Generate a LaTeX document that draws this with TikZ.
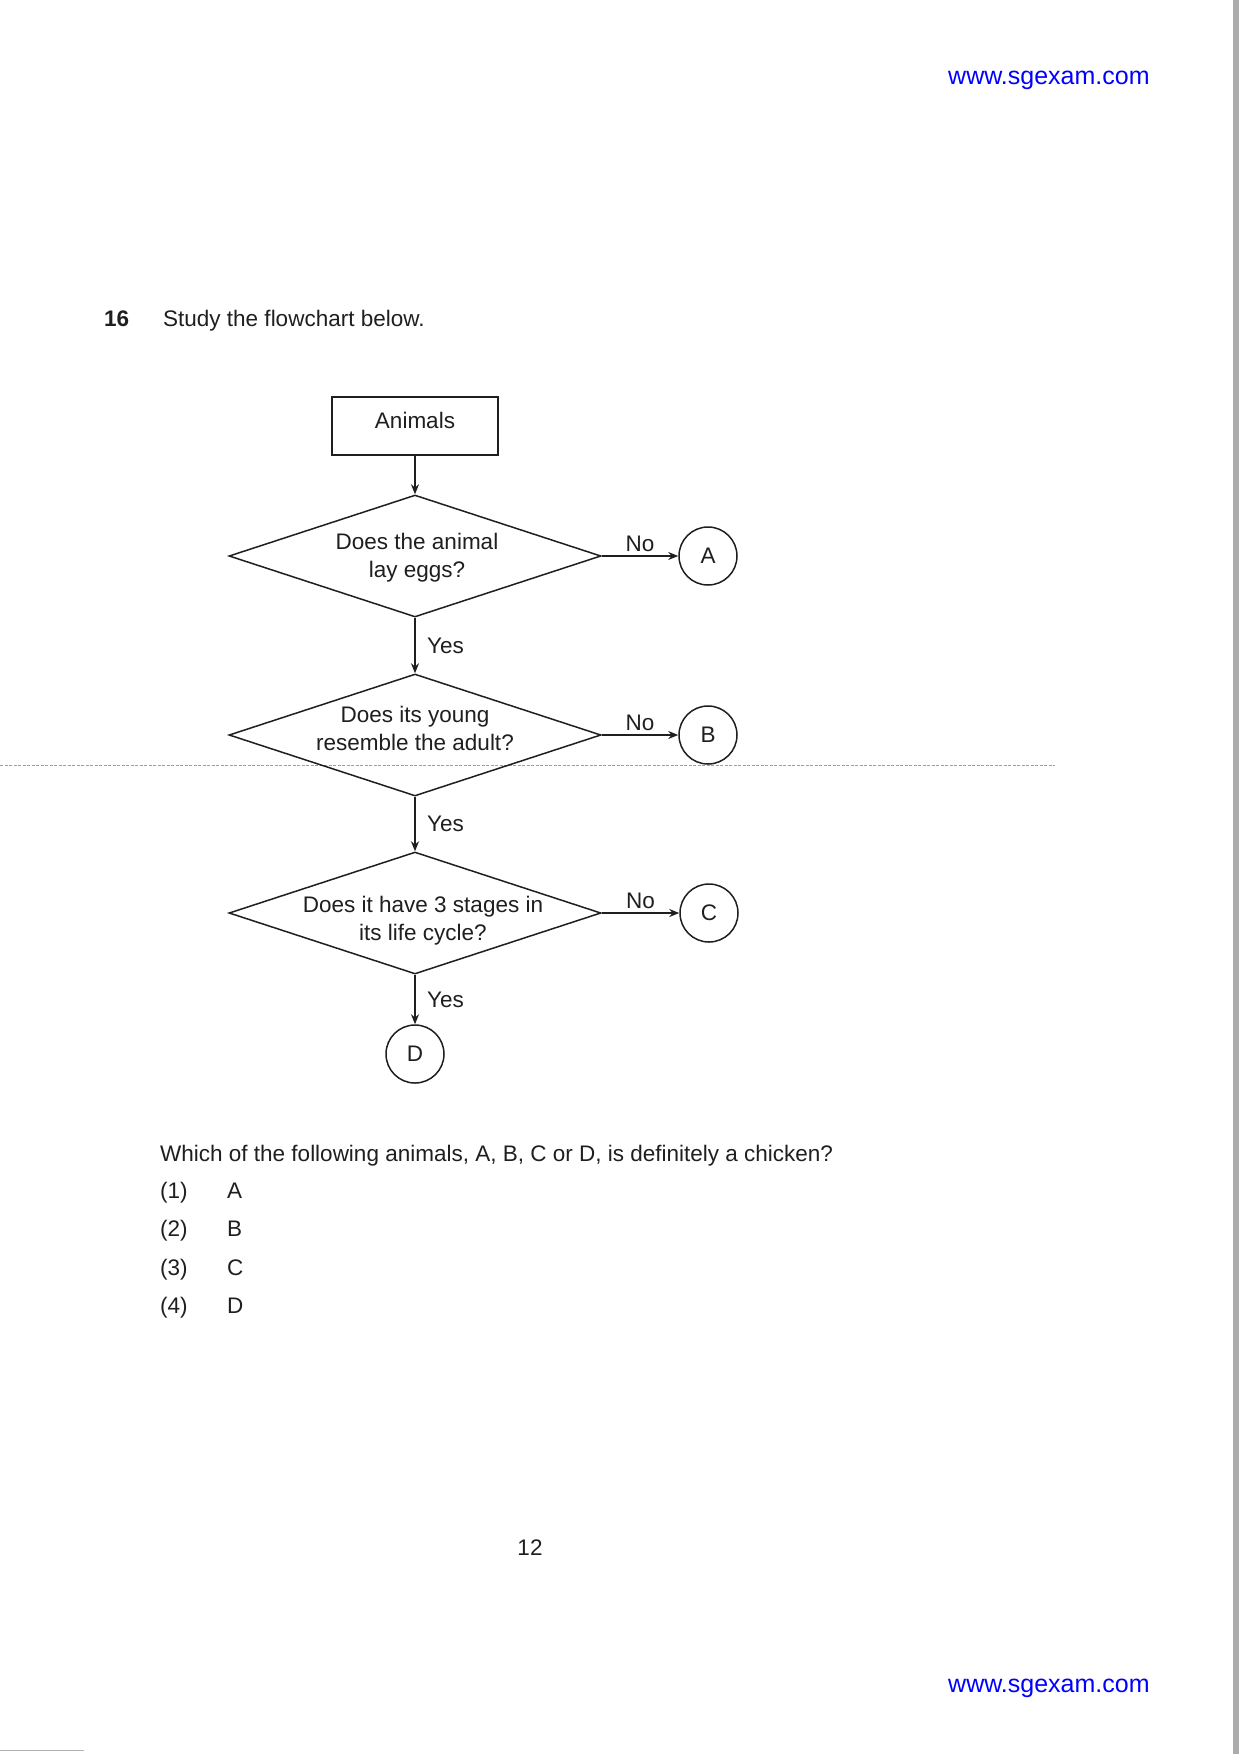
\documentclass[tikz,border=0pt]{standalone}
\usepackage{fontspec}
\setmainfont{Liberation Sans}
\usetikzlibrary{shapes.geometric,arrows.meta}
\definecolor{ink}{gray}{0.12}
\definecolor{urlblue}{RGB}{0,0,255}
\begin{document}
\begin{tikzpicture}[x=1pt,y=-1pt,
  every node/.style={font=\fontsize{22.5}{28}\selectfont, text=ink},
  boxnode/.style={draw=ink, line width=1.5pt, minimum width=166pt, minimum height=58pt, inner sep=0pt, text depth=12pt},
  dia/.style={draw=ink, diamond, line width=1.5pt, minimum width=372pt, minimum height=122pt, inner sep=0pt},
  term/.style={draw=ink, circle, line width=1.5pt, minimum size=58pt, inner sep=0pt},
  arr/.style={draw=ink, line width=1.5pt, -{Stealth[length=10pt,width=8pt]}},
  dtext/.style={align=center, inner sep=0pt},
  yeslbl/.style={right, xshift=8pt},
  nolbl/.style={above},
  plain/.style={anchor=base west, inner sep=0pt},
  url/.style={anchor=base west, inner sep=0pt, text=urlblue, font=\fontsize{25}{30}\selectfont}
]
\useasboundingbox (0,0) rectangle (1239,1754);
\fill[white] (0,0) rectangle (1239,1754);
% scan edge
\fill[gray!65] (1233,0) rectangle (1239,1754);
\draw[gray!60, line width=1pt] (0,1750) -- (84,1750);
% dashed fold line
\draw[gray!75, line width=0.9pt, dash pattern=on 3pt off 1.5pt] (0,765) -- (1055,765);

% header
\node[url] (u1) at (948,84) {www.sgexam.com};
\node[plain, font=\fontsize{22.5}{28}\selectfont\bfseries] (qn) at (104,326) {16};
\node[plain] (qi) at (163,326) {Study the flowchart below.};

% flowchart
\node[boxnode] (animals) at (415,426) {Animals};
\node[dia] (d1) at (415,556) {};
\node[dtext] (t1) at (417,558) {Does the animal\\lay eggs?};
\node[dia] (d2) at (415,735) {};
\node[dtext] (t2) at (415,728) {Does its young\\resemble the adult?};
\node[dia] (d3) at (415,913) {};
\node[dtext] (t3) at (423,921) {Does it have 3 stages in\\its life cycle?};

\node[term] (A) at (708,556) {A};
\node[term] (B) at (708,735) {B};
\node[term] (C) at (709,913) {C};
\node[term] (D) at (415,1054) {D};

\draw[arr] (animals) -- (d1.north);
\draw[arr] (d1.east) -- node[nolbl]{No} (A.west);
\draw[arr] (d1.south) -- node[yeslbl]{Yes} (d2.north);
\draw[arr] (d2.east) -- node[nolbl]{No} (B.west);
\draw[arr] (d2.south) -- node[yeslbl]{Yes} (d3.north);
\draw[arr] (d3.east) -- node[nolbl]{No} (C.west);
\draw[arr] (d3.south) -- node[yeslbl]{Yes} (D.north);

% question
\node[plain] (q) at (160,1161) {Which of the following animals, A, B, C or D, is definitely a chicken?};
\node[plain] (o1) at (160,1198) {(1)};
\node[plain] (a1) at (227,1198) {A};
\node[plain] (o2) at (160,1236) {(2)};
\node[plain] (a2) at (227,1236) {B};
\node[plain] (o3) at (160,1275) {(3)};
\node[plain] (a3) at (227,1275) {C};
\node[plain] (o4) at (160,1313) {(4)};
\node[plain] (a4) at (227,1313) {D};

\node[anchor=base, inner sep=0pt] (pg) at (530,1555) {12};
\node[url] (u2) at (948,1692) {www.sgexam.com};
\end{tikzpicture}
\end{document}
